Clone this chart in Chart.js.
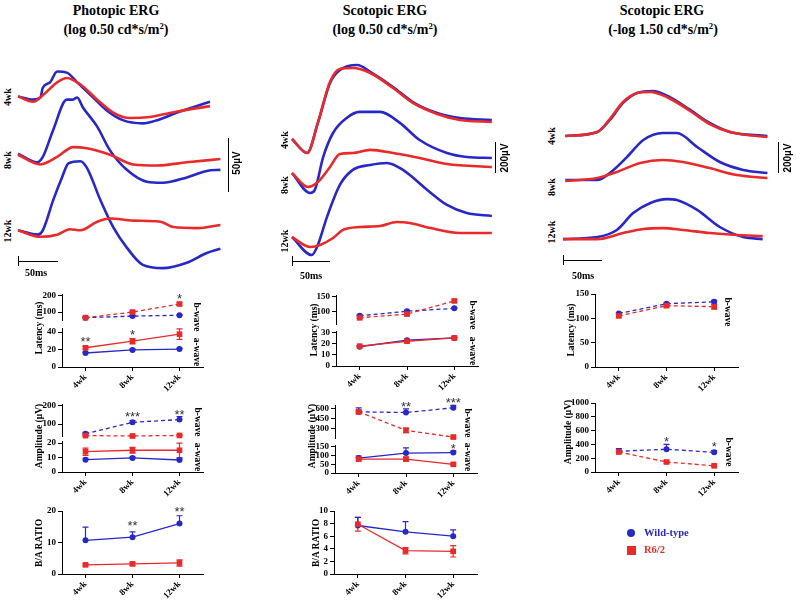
<!DOCTYPE html>
<html>
<head>
<meta charset="utf-8">
<title>ERG</title>
<script src="https://cdn.jsdelivr.net/npm/chart.js@4.4.1/dist/chart.umd.min.js"></script>
<style>
  body { margin: 0; background: #fff; }
  #fig { position: relative; width: 796px; height: 600px; overflow: hidden;
         font-family: 'Liberation Serif', 'Times New Roman', serif; font-weight: bold; color: #000; }
  #fig canvas { position: absolute; }
  .t { position: absolute; white-space: nowrap; line-height: 1; }
  .t sup { font-size: 0.62em; vertical-align: top; position: relative; top: -0.15em; }
  .bar { position: absolute; background: #000; }
</style>
</head>
<body>
<div id="fig"></div>
<script>
const weeks = ['4wk', '8wk', '12wk'];

// ERG traces, [ms, µV] pairs
const pho4WT = [[0,170],[19,167],[28,169],[31,178],[40,183],[49,193],[61,192],[74,183],[94,169],[111,157],[131,148],[156,145],[174,148],[199,155],[219,160],[240,165]];
const pho4R = [[0,170],[19,165],[31,171],[49,183],[61,187],[78,181],[99,167],[119,155],[140,150],[165,151],[199,156],[240,161]];
const pho8WT = [[0,117],[24,109],[31,114],[44,139],[61,167],[68,167],[74,169],[81,160],[99,142],[115,120],[136,102],[161,91],[181,90],[211,95],[236,101],[253,102]];
const pho8R = [[0,116],[28,107],[49,114],[69,123],[86,122],[115,116],[144,107],[174,106],[211,109],[253,112]];
const pho12WT = [[0,46],[25,42],[31,46],[44,74],[55,95],[63,108],[78,110],[86,104],[103,74],[119,49],[136,30],[156,14],[181,11],[211,16],[236,25],[253,29]];
const pho12R = [[0,46],[28,40],[49,42],[65,47],[78,46],[99,54],[115,57],[144,55],[178,54],[194,49],[224,48],[253,51]];

const sco4WT = [[0,909],[20,819],[34,1013],[50,1271],[63,1355],[86,1387],[103,1342],[133,1245],[159,1148],[191,1077],[221,1045],[263,1032]];
const sco4R = [[0,909],[20,819],[34,1013],[50,1277],[63,1361],[80,1367],[103,1335],[133,1238],[159,1142],[191,1071],[221,1032],[263,1019]];
const sco8WT = [[0,690],[24,561],[30,581],[41,793],[54,948],[72,1045],[89,1084],[116,1084],[142,1013],[168,903],[204,819],[230,793],[263,787]];
const sco8R = [[0,690],[21,600],[34,632],[50,729],[63,813],[80,819],[103,839],[133,819],[168,787],[204,748],[263,729]];
const sco12WT = [[0,277],[26,161],[33,213],[46,406],[63,613],[80,710],[103,742],[125,755],[146,710],[178,581],[204,484],[230,432],[263,413]];
const sco12R = [[0,277],[24,213],[37,226],[54,271],[67,323],[89,342],[116,348],[138,374],[155,368],[182,335],[221,303],[263,303]];

const dim4WT = [[3,929],[44,955],[60,1032],[77,1142],[95,1206],[115,1219],[137,1180],[163,1097],[188,1013],[214,955],[262,929]];
const dim4R = [[3,929],[44,955],[60,1038],[77,1148],[95,1206],[112,1213],[133,1180],[163,1090],[188,1006],[214,955],[262,922]];
const dim8WT = [[3,645],[44,645],[60,690],[82,793],[103,903],[128,948],[146,948],[172,858],[201,761],[231,710],[262,690]];
const dim8R = [[3,639],[44,658],[69,697],[99,755],[128,774],[154,761],[188,722],[223,677],[262,658]];
const dim12WT = [[0,264],[44,277],[69,323],[90,432],[112,497],[133,522],[146,516],[172,452],[201,342],[231,277],[256,264]];
const dim12R = [[0,264],[44,264],[77,303],[103,329],[128,335],[154,323],[188,303],[223,290],[256,284]];

// latency (ms), amplitude (µV), b/a ratio; *E = error (SEM)
const latPhoBWT = [65, 75, 80], latPhoBWTE = [3, 3, 3];
const latPhoBR = [65, 100, 150], latPhoBRE = [3, 5, 8];
const latPhoAWT = [16, 19.5, 20.5], latPhoAWTE = [1, 1, 1];
const latPhoAR = [22, 29.5, 37.5], latPhoARE = [1.5, 3, 6];

const ampPhoBWT = [47, 110, 125], ampPhoBWTE = [8, 10, 17];
const ampPhoBR = [37, 35, 38], ampPhoBRE = [3, 3, 3];
const ampPhoAWT = [8.5, 9.7, 8.3], ampPhoAWTE = [1, 0.8, 0.8];
const ampPhoAR = [14, 15, 15], ampPhoARE = [2.5, 2, 5];

const ratPhoWT = [10.7, 11.7, 16], ratPhoWTE = [4.2, 1.7, 2.5];
const ratPhoR = [2.9, 3.2, 3.5], ratPhoRE = [0.3, 0.5, 1.0];

const latScoBWT = [84, 100, 110], latScoBWTE = [3, 3, 3];
const latScoBR = [77, 90, 136], latScoBRE = [3, 3, 4];
const latScoAWT = [17.5, 23.5, 25.5], latScoAWTE = [0.7, 0.7, 0.7];
const latScoAR = [18, 22.5, 25.5], latScoARE = [0.7, 0.7, 0.7];

const ampScoBWT = [555, 545, 615], ampScoBWTE = [60, 55, 35];
const ampScoBR = [555, 280, 180], ampScoBRE = [25, 35, 15];
const ampScoAWT = [86, 115, 118], ampScoAWTE = [12, 30, 10];
const ampScoAR = [80, 80, 50], ampScoARE = [8, 12, 5];

const ratScoWT = [7.7, 6.7, 6.0], ratScoWTE = [1.3, 1.6, 1.0];
const ratScoR = [7.9, 3.7, 3.6], ratScoRE = [1.1, 0.5, 0.9];

const latDimBWT = [110, 130, 134], latDimBWTE = [2, 2, 3];
const latDimBR = [105, 126, 124], latDimBRE = [3, 3, 5];
const ampDimBWT = [300, 330, 285], ampDimBWTE = [40, 70, 25];
const ampDimBR = [290, 145, 90], ampDimBRE = [15, 20, 10];

const BLUE = '#2828c8';
const RED = '#e82a2a';
const fig = document.getElementById('fig');

Chart.defaults.font.family = "'Liberation Serif', serif";
Chart.defaults.font.size = 9;
Chart.defaults.font.weight = 'bold';
Chart.defaults.color = '#000';

function addCanvas(x, y, w, h) {
  const c = document.createElement('canvas');
  c.width = w; c.height = h;
  c.style.left = x + 'px'; c.style.top = y + 'px';
  c.style.width = w + 'px'; c.style.height = h + 'px';
  fig.appendChild(c);
  return c;
}

function waves(x, y, w, h, xr, yr, traces) {
  new Chart(addCanvas(x, y, w, h), {
    type: 'line',
    data: {
      datasets: traces.map(([pts, col]) => ({
        data: pts.map(p => ({ x: p[0], y: p[1] })),
        borderColor: col, borderWidth: 2.6, pointRadius: 0,
        cubicInterpolationMode: 'monotone', clip: false
      }))
    },
    options: {
      responsive: false, animation: false, events: [], devicePixelRatio: 1,
      layout: { padding: 0 },
      plugins: { legend: { display: false }, tooltip: { enabled: false } },
      scales: {
        x: { type: 'linear', min: xr[0], max: xr[1], display: false },
        y: { min: yr[0], max: yr[1], display: false }
      }
    }
  });
}

const errorBars = {
  id: 'errorBars',
  beforeDatasetsDraw(chart) {
    const ctx = chart.ctx;
    chart.data.datasets.forEach((ds, i) => {
      if (!ds.err) return;
      const meta = chart.getDatasetMeta(i);
      const ys = chart.scales[meta.yAxisID];
      ctx.save();
      ctx.strokeStyle = ds.borderColor;
      ctx.lineWidth = 1.2;
      ds.data.forEach((v, j) => {
        const e = ds.err[j];
        const px = meta.data[j].x;
        const hi = ys.getPixelForValue(v + e);
        const lo = ys.getPixelForValue(ds.upOnly ? v : v - e);
        ctx.beginPath();
        ctx.moveTo(px, lo); ctx.lineTo(px, hi);
        ctx.moveTo(px - 3, hi); ctx.lineTo(px + 3, hi);
        if (!ds.upOnly) { ctx.moveTo(px - 3, lo); ctx.lineTo(px + 3, lo); }
        ctx.stroke();
      });
      ctx.restore();
    });
  }
};

function starMarks(list) {
  return {
    id: 'stars',
    afterDatasetsDraw(chart) {
      const ctx = chart.ctx;
      ctx.save();
      ctx.font = "13px 'Liberation Sans', sans-serif";
      ctx.fillStyle = '#333';
      ctx.textAlign = 'center';
      ctx.textBaseline = 'middle';
      list.forEach(([s, i, v]) => {
        ctx.fillText(s, chart.scales.x.getPixelForValue(i), chart.scales.y.getPixelForValue(v) + 3);
      });
      ctx.restore();
    }
  };
}

function panel(g, sets, stars) {
  const YW = 28, PT = 10, PR = 8, PB = 6, XH = 34;
  const w = YW + g.right - g.ax + PR;
  const h = PT + g.bot - g.top + (g.xAxis ? XH : PB);
  new Chart(addCanvas(g.ax - YW, g.top - PT, w, h), {
    type: 'line',
    data: {
      labels: weeks,
      datasets: sets.map(s => ({
        data: s.v, err: s.e, upOnly: !!s.wt,
        borderColor: s.wt ? BLUE : RED,
        backgroundColor: s.wt ? BLUE : RED,
        borderWidth: 1.3,
        borderDash: s.dash ? [4, 3] : [],
        pointStyle: s.wt ? 'circle' : 'rect',
        pointRadius: s.wt ? 3 : 4,
        pointBorderWidth: 0,
        clip: false
      }))
    },
    options: {
      responsive: false, animation: false, events: [], devicePixelRatio: 1,
      layout: { padding: { top: PT, right: PR, left: 0, bottom: g.xAxis ? 0 : PB } },
      plugins: { legend: { display: false }, tooltip: { enabled: false } },
      scales: {
        x: {
          type: 'category', offset: true, display: !!g.xAxis,
          afterFit: s => { if (g.xAxis) s.height = XH; },
          grid: { drawOnChartArea: false, color: '#000', tickLength: 4 },
          border: { color: '#000', width: 1 },
          ticks: { minRotation: 45, maxRotation: 45, padding: 1, autoSkip: false }
        },
        y: {
          min: g.min, max: g.max,
          afterFit: s => { s.width = YW; },
          afterBuildTicks: s => { s.ticks = g.ticks.map(v => ({ value: v })); },
          grid: { drawOnChartArea: false, color: '#000', tickLength: 4 },
          border: { color: '#000', width: 1 },
          ticks: { padding: 2, autoSkip: false, callback: v => String(v) }
        }
      }
    },
    plugins: [errorBars, starMarks(stars || [])]
  });
}

function txt(s, x, y, size, rot, opts) {
  opts = opts || {};
  const d = document.createElement('div');
  d.className = 't';
  d.innerHTML = s;
  d.style.left = x + 'px';
  d.style.top = y + 'px';
  d.style.fontSize = size + 'px';
  if (opts.sans) d.style.fontFamily = "'Liberation Sans', sans-serif";
  if (opts.color) d.style.color = opts.color;
  d.style.transform = opts.left ? 'translate(0,-50%)' : `translate(-50%,-50%) rotate(${rot || 0}deg)`;
  fig.appendChild(d);
}

function bar(x, y, w, h) {
  const d = document.createElement('div');
  d.className = 'bar';
  d.style.left = x + 'px'; d.style.top = y + 'px';
  d.style.width = w + 'px'; d.style.height = h + 'px';
  fig.appendChild(d);
}

// waveforms
waves(14, 60, 212, 222, [-5, 260], [-1.85, 203.7],
  [[pho4R, RED], [pho4WT, BLUE], [pho8R, RED], [pho8WT, BLUE], [pho12R, RED], [pho12WT, BLUE]]);
waves(286, 55, 212, 230, [-7.9, 271.1], [-32, 1451],
  [[sco4R, RED], [sco4WT, BLUE], [sco8R, RED], [sco8WT, BLUE], [sco12R, RED], [sco12WT, BLUE]]);
waves(557, 80, 216, 205, [-7.7, 269.2], [-32, 1290],
  [[dim4R, RED], [dim4WT, BLUE], [dim8R, RED], [dim8WT, BLUE], [dim12R, RED], [dim12WT, BLUE]]);

// photopic panels
panel({ ax: 62, right: 203, top: 294, bot: 322, min: 47, max: 212, ticks: [100, 200] },
  [{ v: latPhoBR, e: latPhoBRE, dash: true }, { v: latPhoBWT, e: latPhoBWTE, wt: true, dash: true }],
  [['*', 2, 200]]);
panel({ ax: 62, right: 203, top: 328, bot: 367, min: 0, max: 44.6, ticks: [0, 20, 40], xAxis: true },
  [{ v: latPhoAR, e: latPhoARE }, { v: latPhoAWT, e: latPhoAWTE, wt: true }],
  [['**', 0, 31], ['*', 1, 39]]);
panel({ ax: 62, right: 203, top: 404, bot: 438, min: 31.6, max: 210.5, ticks: [100, 200] },
  [{ v: ampPhoBR, e: ampPhoBRE, dash: true }, { v: ampPhoBWT, e: ampPhoBWTE, wt: true, dash: true }],
  [['***', 1, 152], ['**', 2, 163]]);
panel({ ax: 62, right: 203, top: 441, bot: 472, min: 0, max: 21.4, ticks: [0, 10, 20], xAxis: true },
  [{ v: ampPhoAR, e: ampPhoARE }, { v: ampPhoAWT, e: ampPhoAWTE, wt: true }]);
panel({ ax: 62, right: 203, top: 511, bot: 574, min: 0, max: 20, ticks: [0, 10, 20], xAxis: true },
  [{ v: ratPhoR, e: ratPhoRE }, { v: ratPhoWT, e: ratPhoWTE, wt: true }],
  [['**', 1, 15.9], ['**', 2, 20.6]]);

// scotopic log 0.50 panels
panel({ ax: 336, right: 478, top: 295, bot: 326, min: 53.3, max: 156.7, ticks: [100, 150] },
  [{ v: latScoBR, e: latScoBRE, dash: true }, { v: latScoBWT, e: latScoBWTE, wt: true, dash: true }]);
panel({ ax: 336, right: 478, top: 331, bot: 366, min: 0, max: 31.8, ticks: [0, 10, 20, 30], xAxis: true },
  [{ v: latScoAR, e: latScoARE }, { v: latScoAWT, e: latScoAWTE, wt: true }]);
panel({ ax: 335, right: 477, top: 405, bot: 440, min: 157, max: 657, ticks: [300, 450, 600] },
  [{ v: ampScoBR, e: ampScoBRE, dash: true }, { v: ampScoBWT, e: ampScoBWTE, wt: true, dash: true }],
  [['**', 1, 671], ['***', 2, 729]]);
panel({ ax: 335, right: 477, top: 445, bot: 473, min: 0, max: 161.5, ticks: [0, 50, 100, 150], xAxis: true },
  [{ v: ampScoAR, e: ampScoARE }, { v: ampScoAWT, e: ampScoAWTE, wt: true }],
  [['*', 2, 156]]);
panel({ ax: 334, right: 477, top: 511, bot: 574, min: 0, max: 10, ticks: [0, 2, 4, 6, 8, 10], xAxis: true },
  [{ v: ratScoR, e: ratScoRE }, { v: ratScoWT, e: ratScoWTE, wt: true }]);

// scotopic -log 1.50 panels
panel({ ax: 595, right: 738, top: 294, bot: 367, min: 0, max: 150, ticks: [0, 50, 100, 150], xAxis: true },
  [{ v: latDimBR, e: latDimBRE, dash: true }, { v: latDimBWT, e: latDimBWTE, wt: true, dash: true }]);
panel({ ax: 595, right: 738, top: 403, bot: 472, min: 0, max: 1000, ticks: [0, 200, 400, 600, 800, 1000], xAxis: true },
  [{ v: ampDimBR, e: ampDimBRE, dash: true }, { v: ampDimBWT, e: ampDimBWTE, wt: true, dash: true }],
  [['*', 1, 478], ['*', 2, 406]]);

// titles
txt('Photopic ERG', 116, 10.5, 14);
txt('(log 0.50 cd*s/m<sup>2</sup>)', 116, 30, 14);
txt('Scotopic ERG', 385, 10.5, 14);
txt('(log 0.50 cd*s/m<sup>2</sup>)', 385, 30, 14);
txt('Scotopic ERG', 662, 10.5, 14);
txt('(-log 1.50 cd*s/m<sup>2</sup>)', 663, 30, 14);

// trace row labels
[[8, 97, '4wk'], [8, 160, '8wk'], [8, 231, '12wk'],
 [285, 140, '4wk'], [285, 185, '8wk'], [285, 241, '12wk'],
 [552, 136, '4wk'], [552, 187, '8wk'], [552, 232, '12wk']].forEach(([x, y, s]) => txt(s, x, y, 10, -90));

// scale bars
bar(227.5, 138, 1.5, 54); bar(18, 260.5, 40, 1.5); bar(17.5, 256, 1.5, 10);
bar(494.5, 142, 1.5, 31); bar(292, 260.5, 38, 1.5); bar(291.5, 256, 1.5, 10);
bar(777.5, 142, 1.5, 31); bar(563, 259.5, 39, 1.5); bar(562.5, 255, 1.5, 10);
txt('50µV', 237, 163, 10, -90, { sans: true });
txt('200µV', 505, 158, 10, -90, { sans: true });
txt('200µV', 788, 158, 10, -90, { sans: true });
txt('50ms', 36, 273, 10);
txt('50ms', 311, 276, 10);
txt('50ms', 583, 276, 10);

// axis titles
txt('Latency (ms)', 40, 328, 9.5, -90);
txt('Latency (ms)', 315, 330, 9.5, -90);
txt('Latency (ms)', 572, 330, 9.5, -90);
txt('Amplitude (µV)', 40, 436, 9.5, -90);
txt('Amplitude (µV)', 313, 436, 9.5, -90);
txt('Amplitude (µV)', 569, 432, 9.5, -90);
txt('B/A RATIO', 40, 543, 9.5, -90);
txt('B/A RATIO', 317, 543, 9.5, -90);

// wave labels
[[196, 317, 'b-wave'], [196, 352, 'a-wave'], [197, 422, 'b-wave'], [197, 457, 'a-wave'],
 [472, 315, 'b-wave'], [472, 351, 'a-wave'], [467, 423, 'b-wave'], [467, 457, 'a-wave'],
 [727, 312, 'b-wave'], [728, 452, 'b-wave']].forEach(([x, y, s]) => txt(s, x, y, 9.5, 90));

// legend
const dot = document.createElement('div');
dot.style.cssText = `position:absolute;left:627px;top:529px;width:8px;height:8px;border-radius:50%;background:${BLUE}`;
fig.appendChild(dot);
const sq = document.createElement('div');
sq.style.cssText = `position:absolute;left:626.5px;top:545.5px;width:9px;height:9px;background:${RED}`;
fig.appendChild(sq);
txt('Wild-type', 644, 533, 10.5, 0, { left: true, color: BLUE });
txt('R6/2', 644, 550, 10.5, 0, { left: true, color: RED });
</script>
</body>
</html>
